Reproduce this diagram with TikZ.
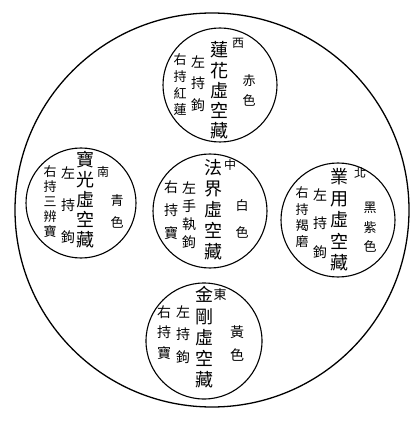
\documentclass[tikz,border=0pt]{standalone}
\usepackage{fontspec}
\newfontfamily\cjk{Noto Sans CJK TC}
\begin{document}
\begin{tikzpicture}[x=1pt,y=-1pt,
  ring/.style={circle,draw=black,line width=1.1pt,inner sep=0pt},
  col/.style={inner sep=0pt,align=center,text=black}]
\useasboundingbox (0,0) rectangle (419,427);
\newcommand{\vcol}[6]{\node[col,font=\cjk\fontsize{#5}{#4}\selectfont] (#1) at (#2,#3) {#6};}
% outer circle
\node[ring,line width=1.3pt,minimum size=394pt] (outer) at (212,210) {};
% five circles
\node[ring,minimum size=114pt] (west) at (220,85) {};
\node[ring,minimum size=110pt] (south) at (81,203) {};
\node[ring,minimum size=114pt] (center) at (210,211) {};
\node[ring,minimum size=114pt] (north) at (338,220) {};
\node[ring,minimum size=116pt] (east) at (204,341) {};
% west (top)
\vcol{wdir}{238}{43}{12}{12}{西}
\vcol{wmain}{219}{90.5}{20.25}{18}{蓮\\花\\虛\\空\\藏}
\vcol{wleft}{198}{83.5}{21.5}{14}{左\\持\\鉤}
\vcol{wright}{180}{85}{16.7}{13}{右\\持\\紅\\蓮}
\vcol{wcol}{249}{90}{20}{13}{赤\\色}
% south (left)
\vcol{sdir}{103}{172}{12}{12}{南}
\vcol{smain}{85}{200}{20}{18}{寶\\光\\虛\\空\\藏}
\vcol{sleft}{68}{205}{32}{14}{左\\持\\鉤}
\vcol{sright}{50}{202}{15}{13}{右\\持\\三\\辨\\寶}
\vcol{scol}{117}{211}{22}{13}{青\\色}
% center
\vcol{cdir}{230}{165}{12}{12}{中}
\vcol{cmain}{213}{210}{21}{18}{法\\界\\虛\\空\\藏}
\vcol{cleft}{189}{215}{18}{14}{左\\手\\執\\鉤}
\vcol{cright}{171}{210}{23}{14}{右\\持\\寶}
\vcol{ccol}{242}{218.5}{27}{13}{白\\色}
% north (right)
\vcol{ndir}{360}{173}{12}{12}{北}
\vcol{nmain}{339}{220}{21.5}{18}{業\\用\\虛\\空\\藏}
\vcol{nleft}{320}{223.5}{28.5}{14}{左\\持\\鉤}
\vcol{nright}{302}{217.5}{16.3}{13}{右\\持\\羯\\磨}
\vcol{ncol}{370}{227.5}{19.5}{13}{黑\\紫\\色}
% east (bottom)
\vcol{edir}{220}{295}{12}{13}{東}
\vcol{emain}{204}{337.5}{21.25}{18}{金\\剛\\虛\\空\\藏}
\vcol{eleft}{183}{334.5}{22.5}{14}{左\\持\\鉤}
\vcol{eright}{164}{332.5}{20.5}{14}{右\\持\\寶}
\vcol{ecol}{237}{343.5}{23}{14}{黃\\色}
\end{tikzpicture}
\end{document}
